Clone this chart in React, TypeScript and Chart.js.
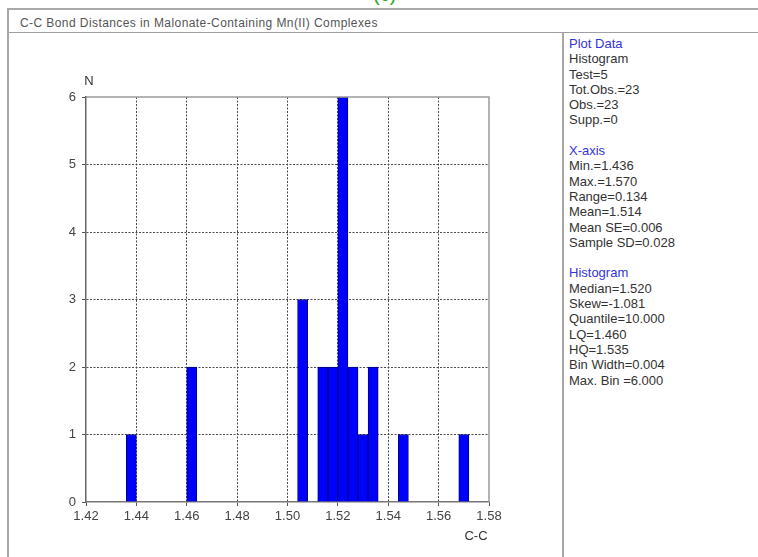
import React, { useEffect, useRef } from "react";
import { Chart, registerables } from "chart.js";

Chart.register(...registerables);

// ---- data ----
const chartTitle = "C-C Bond Distances in Malonate-Containing Mn(II) Complexes";
const binCenters = [1.438, 1.462, 1.506, 1.514, 1.518, 1.522, 1.526, 1.53, 1.534, 1.546, 1.57];
const binCounts = [1, 2, 3, 2, 2, 6, 2, 1, 2, 1, 1];
const xTickValues = [1.42, 1.44, 1.46, 1.48, 1.5, 1.52, 1.54, 1.56, 1.58];
const yTickValues = [0, 1, 2, 3, 4, 5, 6];
const xAxisLabel = "C-C";
const yAxisLabel = "N";

const plotDataLines = ["Histogram", "Test=5", "Tot.Obs.=23", "Obs.=23", "Supp.=0"];
const xAxisLines = ["Min.=1.436", "Max.=1.570", "Range=0.134", "Mean=1.514", "Mean SE=0.006", "Sample SD=0.028"];
const histogramLines = ["Median=1.520", "Skew=-1.081", "Quantile=10.000", "LQ=1.460", "HQ=1.535", "Bin Width=0.004", "Max. Bin =6.000"];

const FONT = "'Liberation Sans', Arial, sans-serif";

const framePlugin = {
  id: "frameAndLabels",
  afterDatasetsDraw(chart: any) {
    const { ctx, chartArea: a } = chart;
    ctx.save();
    ctx.strokeStyle = "#9a9a9a";
    ctx.lineWidth = 1.5;
    ctx.beginPath();
    ctx.moveTo(a.left, a.top);
    ctx.lineTo(a.right, a.top);
    ctx.lineTo(a.right, a.bottom);
    ctx.stroke();
    ctx.restore();
  },
  afterDraw(chart: any) {
    const { ctx, chartArea: a } = chart;
    ctx.save();
    ctx.fillStyle = "#333";
    ctx.font = `13px ${FONT}`;
    ctx.textAlign = "center";
    ctx.textBaseline = "middle";
    ctx.fillText(yAxisLabel, a.left + 3, a.top - 16);
    ctx.fillText(xAxisLabel, a.right - 13, a.bottom + 34);
    ctx.restore();
  },
};

function HistogramChart() {
  const ref = useRef<HTMLCanvasElement | null>(null);
  useEffect(() => {
    if (!ref.current) return;
    const chart = new Chart(ref.current, {
      type: "bar",
      data: {
        datasets: [
          {
            data: binCenters.map((x, i) => ({ x, y: binCounts[i] })),
            backgroundColor: "#0000ff",
            borderColor: "#00007a",
            borderWidth: 1,
            barPercentage: 1,
            categoryPercentage: 1,
          },
        ],
      },
      options: {
        animation: false,
        responsive: false,
        maintainAspectRatio: false,
        layout: { padding: { left: 47, right: 73, top: 63, bottom: 35 } },
        plugins: { legend: { display: false }, tooltip: { enabled: false }, title: { display: false } },
        scales: {
          x: {
            type: "linear",
            min: 1.42,
            max: 1.58,
            offset: false,
            afterBuildTicks: (s: any) => {
              s.ticks = xTickValues.map((v) => ({ value: v }));
            },
            afterFit: (s: any) => {
              s.height = 20;
            },
            ticks: {
              autoSkip: false,
              maxRotation: 0,
              padding: 3,
              color: "#444",
              font: { family: FONT, size: 13 },
              callback: (v: any) => Number(v).toFixed(2),
            },
            grid: {
              offset: false,
              color: (c: any) => (c.tick && (c.tick.value <= 1.42 + 1e-9 || c.tick.value >= 1.58 - 1e-9) ? "rgba(0,0,0,0)" : "#4a4a4a"),
              lineWidth: 1,
              tickLength: 4,
              tickColor: "#555",
              drawTicks: true,
            },
            border: { display: true, color: "#777", width: 1.5, dash: [2, 1.5] },
          },
          y: {
            type: "linear",
            min: 0,
            max: 6,
            afterBuildTicks: (s: any) => {
              s.ticks = yTickValues.map((v) => ({ value: v }));
            },
            afterFit: (s: any) => {
              s.width = 30;
            },
            ticks: {
              padding: 6,
              color: "#444",
              font: { family: FONT, size: 13 },
              callback: (v: any) => String(v),
            },
            grid: {
              color: (c: any) => (c.tick && (c.tick.value === 0 || c.tick.value === 6) ? "rgba(0,0,0,0)" : "#4a4a4a"),
              lineWidth: 1,
              tickLength: 4,
              tickColor: "#555",
            },
            border: { display: true, color: "#666", width: 1.5, dash: [2, 1.5] },
          },
        },
      } as any,
      plugins: [framePlugin],
    });
    return () => chart.destroy();
  }, []);
  return <canvas ref={ref} width={553} height={523} style={{ display: "block", width: 553, height: 523 }} />;
}

const headingStyle: React.CSSProperties = { color: "#3434dc" };

export default function App() {
  const line = (t: string, i: number, blue = false) => (
    <div key={t + i} style={blue ? headingStyle : undefined}>
      {t}
    </div>
  );
  return (
    <div
      style={{
        position: "fixed",
        left: 0,
        top: 0,
        width: 758,
        height: 557,
        background: "#fff",
        overflow: "hidden",
        fontFamily: FONT,
      }}
    >
      <div style={{ position: "absolute", left: 373, top: -17, color: "#2aa82a", fontSize: 20 }}>(c)</div>
      {/* outer frame */}
      <div
        style={{
          position: "absolute",
          left: 7,
          top: 8,
          width: 760,
          height: 560,
          borderTop: "2px solid #a8a8a8",
          borderLeft: "2px solid #a8a8a8",
          boxSizing: "border-box",
        }}
      />
      {/* title bar */}
      <div
        style={{
          position: "absolute",
          left: 20,
          top: 16,
          fontSize: 12,
          color: "#555",
          whiteSpace: "nowrap",
          letterSpacing: 0.42,
        }}
      >
        {chartTitle}
      </div>
      <div style={{ position: "absolute", left: 9, top: 32, width: 760, height: 0, borderTop: "1.5px solid #a0a0a0" }} />
      {/* divider */}
      <div style={{ position: "absolute", left: 562, top: 33, width: 2, height: 530, background: "#a8a8a8" }} />
      {/* chart */}
      <div style={{ position: "absolute", left: 9, top: 34 }}>
        <HistogramChart />
      </div>
      {/* right panel */}
      <div
        style={{
          position: "absolute",
          left: 569,
          top: 36,
          fontSize: 13,
          lineHeight: "15.3px",
          color: "#333",
          whiteSpace: "nowrap",
        }}
      >
        {line("Plot Data", 0, true)}
        {plotDataLines.map((t, i) => line(t, i))}
        <div style={{ height: 15.3 }} />
        {line("X-axis", 0, true)}
        {xAxisLines.map((t, i) => line(t, i))}
        <div style={{ height: 15.3 }} />
        {line("Histogram", 100, true)}
        {histogramLines.map((t, i) => line(t, i))}
      </div>
    </div>
  );
}
